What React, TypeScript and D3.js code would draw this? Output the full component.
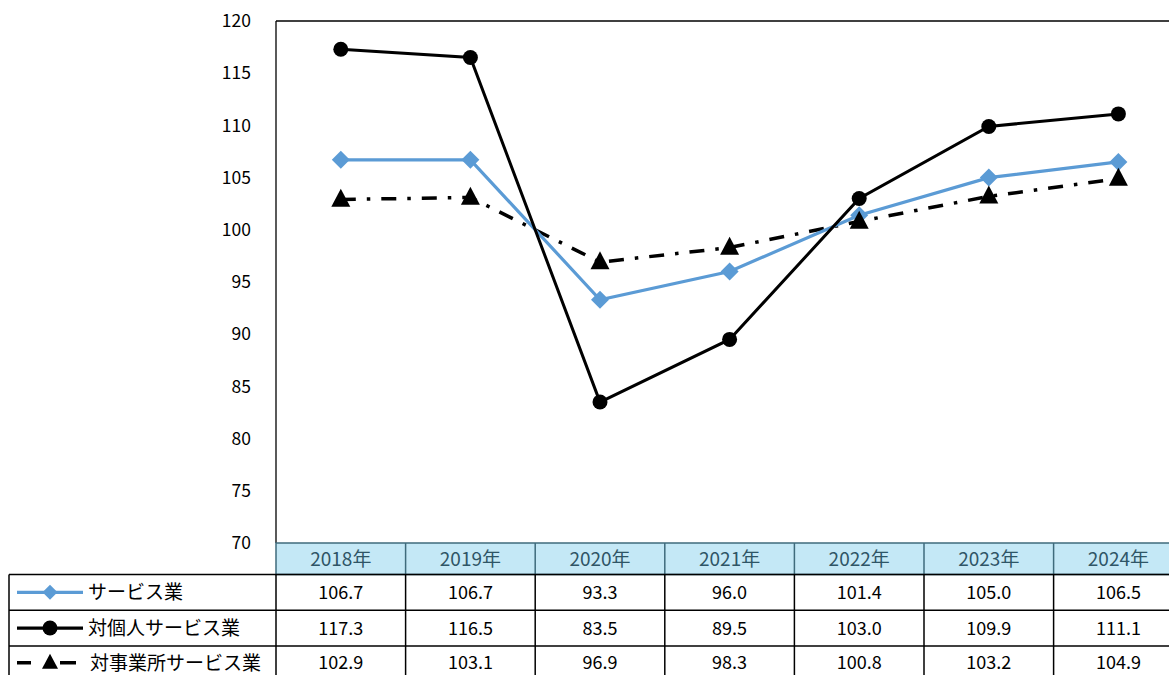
import React from "react";
import * as d3 from "d3";

const years = ["2018年", "2019年", "2020年", "2021年", "2022年", "2023年", "2024年"];
const serviceValues = [106.7, 106.7, 93.3, 96.0, 101.4, 105.0, 106.5];
const personalValues = [117.3, 116.5, 83.5, 89.5, 103.0, 109.9, 111.1];
const businessValues = [102.9, 103.1, 96.9, 98.3, 100.8, 103.2, 104.9];
const seriesNames = ["サービス業", "対個人サービス業", "対事業所サービス業"];
const yTicks = [70, 75, 80, 85, 90, 95, 100, 105, 110, 115, 120];

const W = 1169;
const H = 675;
const plotLeft = 276;
const plotTop = 21;
const plotBottom = 543;
const colW = 129.6;
const headerBottom = 574.5;
const rowH = 35.7;
const legendLeft = 9;
const FONT = "'Noto Sans CJK JP', 'Noto Sans', sans-serif";
const BLUE = "#5B9BD5";

const x = d3.scaleBand<string>().domain(years).range([plotLeft, plotLeft + colW * years.length]);
const y = d3.scaleLinear().domain([70, 120]).range([plotBottom, plotTop]);
const cx = (yr: string) => (x(yr) as number) + x.bandwidth() / 2;

const lineGen = (vals: number[]) =>
  d3.line<number>().x((_, i) => cx(years[i])).y((v) => y(v))(vals) as string;

const Diamond = ({ x0, y0, s = 9, fill = BLUE }: any) => (
  <path d={`M${x0},${y0 - s}L${x0 + s},${y0}L${x0},${y0 + s}L${x0 - s},${y0}Z`} fill={fill} />
);
const Circle = ({ x0, y0 }: any) => <circle cx={x0} cy={y0} r={7.5} fill="#000" />;
const Tri = ({ x0, y0, s = 19, h = 18 }: any) => (
  <path
    d={`M${x0},${y0 - h * 0.6}L${x0 + s / 2},${y0 + h * 0.4}L${x0 - s / 2},${y0 + h * 0.4}Z`}
    fill="#000"
  />
);

export default function App() {
  const series = [serviceValues, personalValues, businessValues];
  const tableRight = plotLeft + colW * years.length;
  return (
    <div style={{ position: "absolute", left: 0, top: 0 }}>
      <svg width={W} height={H} style={{ display: "block", background: "#fff" }} fontFamily={FONT}>
        {/* y tick labels */}
        {yTicks.map((t) => (
          <text key={t} x={251} y={y(t)} dy="0.35em" textAnchor="end" fontSize={17.5} fill="#000">
            {t}
          </text>
        ))}
        {/* plot borders */}
        <line x1={plotLeft} x2={W} y1={plotTop} y2={plotTop} stroke="#000" strokeWidth={1.3} />
        <line x1={plotLeft} x2={plotLeft} y1={plotTop} y2={plotBottom} stroke="#000" strokeWidth={1.3} />

        {/* lines */}
        <path d={lineGen(businessValues)} fill="none" stroke="#000" strokeWidth={3.5} strokeDasharray="15 11 3.5 11" />
        <path d={lineGen(serviceValues)} fill="none" stroke={BLUE} strokeWidth={3.2} />
        <path d={lineGen(personalValues)} fill="none" stroke="#000" strokeWidth={3} />
        {serviceValues.map((v, i) => (
          <Diamond key={"d" + i} x0={cx(years[i])} y0={y(v)} />
        ))}
        {personalValues.map((v, i) => (
          <Circle key={"c" + i} x0={cx(years[i])} y0={y(v)} />
        ))}
        {businessValues.map((v, i) => (
          <Tri key={"t" + i} x0={cx(years[i])} y0={y(v)} />
        ))}

        {/* header row */}
        <rect
          x={plotLeft}
          y={plotBottom}
          width={tableRight - plotLeft}
          height={headerBottom - plotBottom}
          fill="#C4E8F6"
          stroke="#3F6B7C"
          strokeWidth={1.5}
        />
        {years.map((yr, i) => (
          <g key={yr}>
            {i > 0 && (
              <line x1={x(yr)} x2={x(yr)} y1={plotBottom} y2={headerBottom} stroke="#3F6B7C" strokeWidth={1.5} />
            )}
            <text x={cx(yr)} y={(plotBottom + headerBottom) / 2 + 0.5} dy="0.36em" textAnchor="middle" fontSize={19} fill="#2F5566">
              {yr}
            </text>
          </g>
        ))}

        {/* data rows */}
        {series.map((vals, r) => {
          const top = headerBottom + r * rowH;
          const mid = top + rowH / 2 - (r === 2 ? 1 : 0);
          return (
            <g key={"row" + r}>
              <line x1={legendLeft} x2={W} y1={top} y2={top} stroke="#000" strokeWidth={1.5} />
              {vals.map((v, i) => (
                <text key={i} x={cx(years[i])} y={mid} dy="0.36em" textAnchor="middle" fontSize={18} fill="#000">
                  {v.toFixed(1)}
                </text>
              ))}
              {/* legend sample */}
              {r === 0 && (
                <g>
                  <line x1={17} x2={83} y1={mid} y2={mid} stroke={BLUE} strokeWidth={3.2} />
                  <Diamond x0={50} y0={mid} s={7.5} />
                </g>
              )}
              {r === 1 && (
                <g>
                  <line x1={17} x2={83} y1={mid} y2={mid} stroke="#000" strokeWidth={3.2} />
                  <Circle x0={50} y0={mid} />
                </g>
              )}
              {r === 2 && (
                <g>
                  <line x1={17} x2={31} y1={mid} y2={mid} stroke="#000" strokeWidth={3.5} />
                  <line x1={60} x2={76} y1={mid} y2={mid} stroke="#000" strokeWidth={3.5} />
                  <Tri x0={50} y0={mid} s={16} h={15} />
                </g>
              )}
              <text x={r === 2 ? 90 : 88} y={mid} dy="0.36em" fontSize={19} fill="#000">
                {seriesNames[r]}
              </text>
            </g>
          );
        })}
        {/* vertical lines of data rows */}
        {[legendLeft, ...years.map((yr) => x(yr) as number)].map((xv, i) => (
          <line key={"v" + i} x1={xv} x2={xv} y1={headerBottom} y2={H + 5} stroke="#000" strokeWidth={1.5} />
        ))}
      </svg>
    </div>
  );
}
